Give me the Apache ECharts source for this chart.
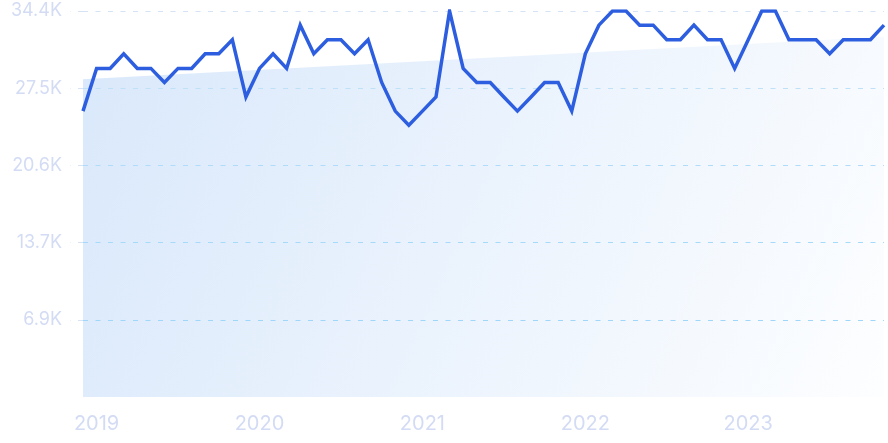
<!DOCTYPE html>
<html>
<head>
<meta charset="utf-8">
<style>
  html, body { margin: 0; padding: 0; background: #ffffff; }
  #chart { width: 888px; height: 443px; }
</style>
<script src="https://cdn.jsdelivr.net/npm/echarts@6/dist/echarts.min.js"></script>
</head>
<body>
<div id="chart"></div>
<script>
// Months from Dec 2018 to Nov 2023
const months = [
  '2018-12',
  '2019-01','2019-02','2019-03','2019-04','2019-05','2019-06','2019-07','2019-08','2019-09','2019-10','2019-11','2019-12',
  '2020-01','2020-02','2020-03','2020-04','2020-05','2020-06','2020-07','2020-08','2020-09','2020-10','2020-11','2020-12',
  '2021-01','2021-02','2021-03','2021-04','2021-05','2021-06','2021-07','2021-08','2021-09','2021-10','2021-11','2021-12',
  '2022-01','2022-02','2022-03','2022-04','2022-05','2022-06','2022-07','2022-08','2022-09','2022-10','2022-11','2022-12',
  '2023-01','2023-02','2023-03','2023-04','2023-05','2023-06','2023-07','2023-08','2023-09','2023-10','2023-11'
];

const values = [
  25450,
  29250, 29250, 30550, 29250, 29250, 28000, 29250, 29250, 30550, 30550, 31800, 26700,
  29250, 30550, 29250, 33100, 30550, 31800, 31800, 30550, 31800, 28000, 25450, 24200,
  25450, 26700, 34360, 29250, 28000, 28000, 26700, 25450, 26700, 28000, 28000, 25450,
  30550, 33100, 34360, 34360, 33100, 33100, 31800, 31800, 33100, 31800, 31800, 29250,
  31800, 34360, 34360, 31800, 31800, 31800, 30550, 31800, 31800, 31800, 33100
];

// Trend line: start and end values
const trendStart = 28290;
const trendEnd = 32060;

const yTicks = { min: 0, max: 34360, interval: 6872 };

const chart = echarts.init(document.getElementById('chart'), null, { renderer: 'canvas' });

const labelColor = '#d3dcf4';
const gridColors = ['rgba(0,0,0,0)', '#9fd7fb', '#a6dafb', '#aedcfa', '#bfe1f8', '#d6e2f6'];

chart.setOption({
  animation: false,
  grid: { left: 83, right: 4, top: 11, bottom: 46, containLabel: false },
  xAxis: {
    type: 'category',
    data: months,
    boundaryGap: false,
    axisLine: { show: false },
    axisTick: { show: false },
    splitLine: { show: false },
    axisLabel: {
      color: labelColor,
      fontFamily: 'Inter',
      fontSize: 20,
      margin: 17,
      interval: function (idx, val) { return val.slice(5) === '01'; },
      formatter: function (val) { return val.slice(0, 4); }
    }
  },
  yAxis: {
    type: 'value',
    min: yTicks.min,
    max: yTicks.max,
    interval: yTicks.interval,
    z: 5,
    axisLine: { show: false },
    axisTick: {
      show: true,
      length: 13,
      lineStyle: { color: gridColors, type: [5, 7.5] }
    },
    axisLabel: {
      color: labelColor,
      fontFamily: 'Inter',
      fontSize: 18,
      margin: 21,
      showMinLabel: false,
      formatter: function (v) { return (Math.round(v / 100) / 10).toFixed(1) + 'K'; }
    },
    splitLine: {
      show: true,
      lineStyle: { color: gridColors, type: [5, 7.5], width: 1 }
    }
  },
  series: [
    {
      name: 'trend',
      type: 'line',
      data: [[months[0], trendStart], [months[months.length - 1], trendEnd]],
      symbol: 'none',
      lineStyle: { width: 0, opacity: 0 },
      areaStyle: {
        opacity: 1,
        color: new echarts.graphic.LinearGradient(0, 0, 1, 1, [
          { offset: 0, color: '#d9e8fb' },
          { offset: 1, color: '#fdfeff' }
        ])
      },
      z: 1,
      silent: true
    },
    {
      name: 'value',
      type: 'line',
      data: values,
      symbol: 'none',
      lineStyle: { color: '#2d5ee0', width: 3.5, join: 'miter' },
      z: 10
    }
  ]
});
</script>
</body>
</html>
